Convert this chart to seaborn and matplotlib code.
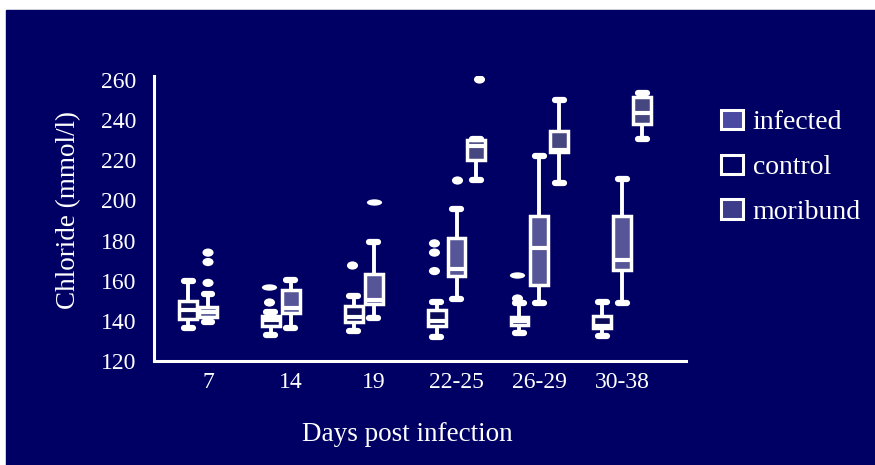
import numpy as np
import pandas as pd
import matplotlib
matplotlib.use("Agg")
import matplotlib.pyplot as plt
import matplotlib.path as mpath
from matplotlib.transforms import Affine2D
from matplotlib.patches import Rectangle, Patch
import seaborn as sns

# ---- data -------------------------------------------------------------
days = ["7", "14", "19", "22-25", "26-29", "30-38"]
groups = ["control", "infected", "moribund"]

# five-number summaries per box: (low whisker, Q1, median, Q3, high whisker)
control_stats = [
    (136.2, 140.9, 145.3, 149.9, 159.9),
    (133.1, 137.5, 140.5, 142.2, 144.5),
    (135.0, 139.5, 141.8, 147.2, 152.4),
    (131.8, 137.5, 140.0, 145.5, 149.6),
    (133.9, 137.9, 140.0, 142.0, 149.1),
    (132.6, 136.2, 137.5, 142.2, 149.6),
]
infected_stats = [
    (139.5, 141.8, 144.3, 146.8, 153.3),
    (136.2, 143.8, 146.2, 155.4, 160.4),
    (141.5, 148.3, 150.4, 163.2, 179.2),
    (150.8, 162.1, 166.0, 181.4, 195.5),
    (149.1, 157.7, 176.3, 192.1, 221.9),
    (148.8, 165.2, 170.1, 192.1, 210.9),
]
moribund_stats = [
    None,
    None,
    None,
    (210.4, 219.9, 226.9, 229.9, 230.7),
    (208.7, 224.1, 225.0, 234.7, 250.1),
    (230.7, 238.2, 243.5, 251.4, 253.7),
]

# outlying values: (day, group, value)
round_outliers = [
    ("14", "control", 149.6),
    ("19", "control", 167.8),
    ("22-25", "control", 164.8),
    ("22-25", "control", 174.0),
    ("22-25", "control", 178.6),
    ("26-29", "control", 151.3),
    ("7", "infected", 158.9),
    ("7", "infected", 169.3),
    ("7", "infected", 174.0),
    ("22-25", "infected", 210.4),
    ("22-25", "moribund", 260.4),
]
dash_outliers = [
    ("14", "control", 156.9),
    ("26-29", "control", 162.8),
    ("19", "infected", 199.1),
]

y_ticks = [120, 140, 160, 180, 200, 220, 240, 260]

# ---- tidy frames --------------------------------------------------------
rows = []
for name, stats in zip(groups, [control_stats, infected_stats, moribund_stats]):
    for day, s in zip(days, stats):
        if s is None:
            continue
        for v in s:
            rows.append({"day": day, "group": name, "chloride": v})
boxes = pd.DataFrame(rows)
round_df = pd.DataFrame(round_outliers, columns=["day", "group", "chloride"])
dash_df = pd.DataFrame(dash_outliers, columns=["day", "group", "chloride"])

# ---- style ---------------------------------------------------------------
navy = "#000064"
sns.set_theme(style="white")
plt.rcParams["font.family"] = ["Liberation Serif", "DejaVu Serif"]

fills = {"control": navy, "infected": "#4a4aa2", "moribund": "#3c3c8a"}
whites = {g: "white" for g in groups}

fig = plt.figure(figsize=(8.75, 4.65), dpi=100, facecolor="white")
fig.patches.append(Rectangle((6 / 875, 0), 1, 1 - 10 / 465,
                             transform=fig.transFigure, color=navy, zorder=-5))
ax = fig.add_axes([0.176, 0.2237, 0.608, 0.6129])
ax.set_facecolor("none")
ax.set_zorder(2)

sns.boxplot(
    data=boxes, x="day", y="chloride", hue="group",
    order=days, hue_order=groups, palette=fills,
    whis=(0, 100), showfliers=False, width=0.72, gap=0.1,
    linecolor="white", linewidth=2.5,
    medianprops={"linewidth": 3},
    whiskerprops={"linewidth": 2.8},
    capprops={"linewidth": 4.5},
    legend=False, ax=ax,
)

ellipse = mpath.Path.unit_circle().transformed(Affine2D().scale(1.35, 1.0))
dash = mpath.Path.unit_circle().transformed(Affine2D().scale(2.4, 1.0))
sns.stripplot(
    data=round_df, x="day", y="chloride", hue="group",
    order=days, hue_order=groups, palette=whites,
    dodge=True, jitter=False, marker=ellipse, size=8, linewidth=0,
    legend=False, ax=ax,
)
sns.stripplot(
    data=dash_df, x="day", y="chloride", hue="group",
    order=days, hue_order=groups, palette=whites,
    dodge=True, jitter=False, marker=dash, size=11, linewidth=0,
    legend=False, ax=ax,
)

# ---- axes ------------------------------------------------------------------
ax.set_xlim(-0.652, 5.77)
ax.set_ylim(120.5, 262)
ax.set_yticks(y_ticks)
ax.set_yticklabels([str(t) for t in y_ticks])
for side in ["top", "right"]:
    ax.spines[side].set_visible(False)
for side in ["left", "bottom"]:
    ax.spines[side].set_color("white")
    ax.spines[side].set_linewidth(2.2)
ax.tick_params(axis="y", length=0, pad=13, labelsize=17, labelcolor="white")
ax.tick_params(axis="x", length=0, pad=8, labelsize=17, labelcolor="white")
ax.set_xlabel("Days post infection", color="white", fontsize=19.5)
ax.set_ylabel("Chloride (mmol/l)", color="white", fontsize=19.5)
ax.xaxis.set_label_coords(0.476, -0.215)
ax.yaxis.set_label_coords(-0.137, 0.53)

handles = [Patch(facecolor=fills[g], edgecolor="white", linewidth=2.2) for g in
           ["infected", "control", "moribund"]]
fig.legend(
    handles, ["infected", "control", "moribund"],
    loc="upper left", bbox_to_anchor=(0.795, 0.818), frameon=False,
    fontsize=20, labelcolor="white", handlelength=0.8, handleheight=0.7,
    handletextpad=0.35, labelspacing=0.7,
)

fig.savefig("out.png", dpi=100, facecolor=fig.get_facecolor())
